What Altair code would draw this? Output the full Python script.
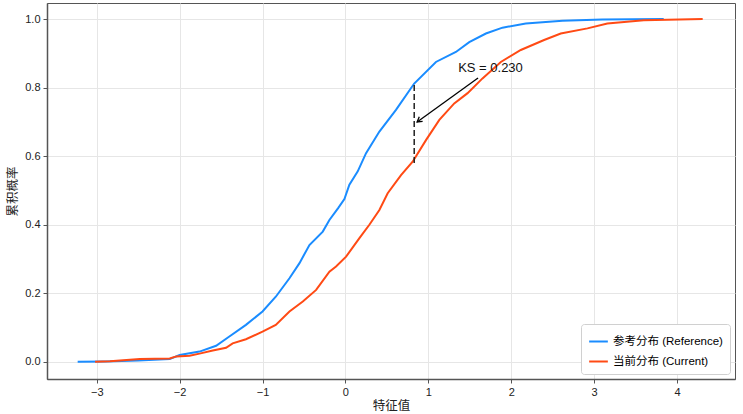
import altair as alt
import pandas as pd

ref_x = [-3.23, -2.9, -2.5, -2.12, -2.0, -1.76, -1.56, -1.40, -1.20, -1.0, -0.84, -0.675,
         -0.554, -0.434, -0.273, -0.193, -0.09, -0.012, 0.048, 0.149, 0.249, 0.41, 0.61,
         0.83, 1.092, 1.333, 1.494, 1.695, 1.895, 2.176, 2.618, 3.10, 3.84]
ref_y = [0.0, 0.001, 0.004, 0.008, 0.02, 0.03, 0.047, 0.074, 0.108, 0.147, 0.19, 0.244,
         0.288, 0.341, 0.38, 0.414, 0.448, 0.475, 0.517, 0.556, 0.609, 0.672, 0.735,
         0.812, 0.875, 0.904, 0.933, 0.958, 0.975, 0.987, 0.995, 0.999, 1.0]

cur_x = [-3.02, -2.84, -2.48, -2.12, -2.04, -1.88, -1.76, -1.60, -1.44, -1.36, -1.20, -1.0,
         -0.84, -0.675, -0.514, -0.353, -0.193, -0.113, 0.008, 0.169, 0.289, 0.41, 0.51,
         0.671, 0.811, 0.972, 1.133, 1.313, 1.474, 1.654, 1.875, 2.116, 2.397, 2.598,
         2.92, 3.16, 3.60, 4.31]
cur_y = [0.0, 0.002, 0.008, 0.01, 0.016, 0.018, 0.024, 0.033, 0.041, 0.054, 0.066, 0.088,
         0.108, 0.147, 0.176, 0.21, 0.263, 0.278, 0.307, 0.361, 0.40, 0.443, 0.492,
         0.545, 0.584, 0.647, 0.706, 0.754, 0.784, 0.827, 0.875, 0.91, 0.939, 0.958,
         0.973, 0.987, 0.997, 1.0]

series_names = ["参考分布 (Reference)", "当前分布 (Current)"]
series_colors = ["#1a8cff", "#ff4a14"]

ks_x = 0.83
ks_lo = 0.58
ks_hi = 0.812
ks_label = "KS = 0.230"
label_pos = (1.75, 0.857)
arrow_tail = (1.60, 0.828)
arrow_head = (0.865, 0.70)

x_ticks = [-3, -2, -1, 0, 1, 2, 3, 4]
y_ticks = [0.0, 0.2, 0.4, 0.6, 0.8, 1.0]

FONT = "Liberation Sans, Noto Sans CJK SC"

df = pd.concat([
    pd.DataFrame({"x": ref_x, "y": ref_y, "series": series_names[0], "o": range(len(ref_x))}),
    pd.DataFrame({"x": cur_x, "y": cur_y, "series": series_names[1], "o": range(len(cur_x))}),
])

xs = alt.Scale(domain=[-3.6, 4.7], nice=False, zero=False)
ys = alt.Scale(domain=[-0.05, 1.047], nice=False, zero=False)

xaxis = alt.Axis(values=x_ticks, title="特征值", format="d", grid=True)
yaxis = alt.Axis(values=y_ticks, title="累积概率", format=".1f", grid=True)

lines = alt.Chart(df).mark_line(strokeWidth=2).encode(
    x=alt.X("x:Q", scale=xs, axis=xaxis),
    y=alt.Y("y:Q", scale=ys, axis=yaxis),
    color=alt.Color("series:N", scale=alt.Scale(domain=series_names, range=series_colors),
                    legend=alt.Legend(title=None, orient="bottom-right", symbolType="stroke",
                                      symbolStrokeWidth=2, symbolSize=350, labelFontSize=11.5,
                                      labelFont=FONT, padding=7, offset=5,
                                      fillColor="white", strokeColor="#d0d0d0",
                                      cornerRadius=3, rowPadding=4)),
    order="o:Q",
)

ks_df = pd.DataFrame({"x": [ks_x], "y": [ks_lo], "y2": [ks_hi]})
ks_rule = alt.Chart(ks_df).mark_rule(color="#222", strokeWidth=1.5, strokeDash=[6, 3]).encode(
    x=alt.X("x:Q", scale=xs), y=alt.Y("y:Q", scale=ys), y2="y2:Q")

arrow_df = pd.DataFrame({"x": [arrow_tail[0]], "y": [arrow_tail[1]],
                         "x2": [arrow_head[0]], "y2": [arrow_head[1]]})
arrow = alt.Chart(arrow_df).mark_rule(color="black", strokeWidth=1.3).encode(
    x=alt.X("x:Q", scale=xs), y=alt.Y("y:Q", scale=ys), x2="x2:Q", y2="y2:Q")

head_df = pd.DataFrame({"x": [arrow_head[0]], "y": [arrow_head[1]]})
head = alt.Chart(head_df).mark_point(
    shape="M-0.6,1 L0,0 L0.6,1", filled=False, color="black", strokeWidth=1.3,
    size=90, angle=234, opacity=1).encode(
    x=alt.X("x:Q", scale=xs), y=alt.Y("y:Q", scale=ys))

text_df = pd.DataFrame({"x": [label_pos[0]], "y": [label_pos[1]], "t": [ks_label]})
text = alt.Chart(text_df).mark_text(fontSize=13, font=FONT, color="#111").encode(
    x=alt.X("x:Q", scale=xs), y=alt.Y("y:Q", scale=ys), text="t:N")

chart = alt.layer(lines, ks_rule, arrow, head, text).properties(
    width=688, height=376,
    autosize=alt.AutoSizeParams(type="none"),
    padding={"left": 47, "top": 3, "right": 8, "bottom": 35},
).configure_view(stroke="#555", strokeWidth=1).configure_axis(
    labelFont=FONT, titleFont=FONT, labelFontSize=11, titleFontSize=12.5,
    titleFontWeight="normal", labelColor="#222", titleColor="#222",
    gridColor="#e6e6e6", gridWidth=1, domainColor="#555", domainWidth=1.5,
    tickColor="#555", tickSize=4, labelPadding=3,
).configure_axisX(titlePadding=2).configure_axisY(titlePadding=5)

chart.save("out.html", embed_options={"renderer": "svg", "actions": False})
